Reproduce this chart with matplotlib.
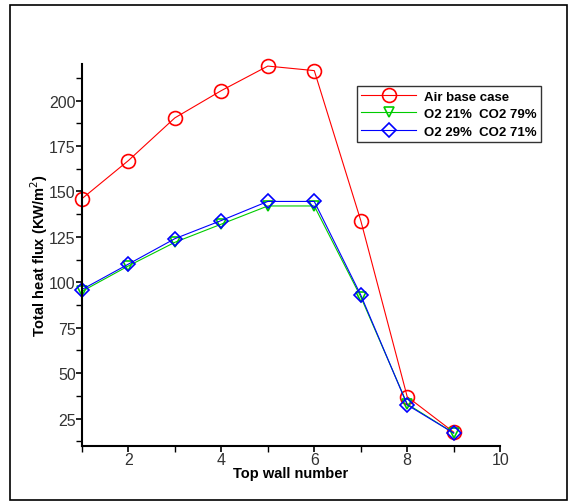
import matplotlib
matplotlib.use("Agg")
import matplotlib.pyplot as plt
from matplotlib.patches import Rectangle
from matplotlib.ticker import MultipleLocator

plt.rcParams['font.family'] = ['Liberation Sans', 'DejaVu Sans']

wall = [1, 2, 3, 4, 5, 6, 7, 8, 9]
air = [146, 167, 190.5, 205.5, 219, 216.5, 134, 37, 17.5]
o2_21 = [95, 109, 122, 132, 142, 142, 92, 33, 17]
o2_29 = [96, 110, 124, 134, 144.5, 144.5, 93, 32.5, 17]

fig = plt.figure(figsize=(5.69, 5.02), dpi=100)
ax = fig.add_axes([0.144, 0.110, 0.735, 0.760])

# outer frame round the whole picture
fig.patches.append(Rectangle((10 / 569, 1 - 501 / 502), 557 / 569, 495 / 502,
                             transform=fig.transFigure, fill=False,
                             edgecolor='black', linewidth=1.2))

ax.plot(wall, air, color='red', lw=0.8, marker='o', ms=10,
        mfc='none', mec='red', mew=1.2, label='Air base case', clip_on=False)
ax.plot(wall, o2_21, color='#00cc00', lw=0.8, marker='v', ms=7,
        mfc='none', mec='#00cc00', mew=1.2, label='O2 21%  CO2 79%', clip_on=False)
ax.plot(wall, o2_29, color='blue', lw=0.8, marker='D', ms=7,
        mfc='none', mec='blue', mew=1.2, label='O2 29%  CO2 71%', clip_on=False)

ax.set_xlim(1, 10)
ax.set_ylim(10, 220)
ax.xaxis.set_major_locator(MultipleLocator(2))
ax.xaxis.set_minor_locator(MultipleLocator(1))
ax.yaxis.set_minor_locator(MultipleLocator(12.5))
ax.set_yticks([25, 50, 75, 100, 125, 150, 175, 200])

for s in ['top', 'right']:
    ax.spines[s].set_visible(False)
for s in ['left', 'bottom']:
    ax.spines[s].set_linewidth(1.5)

ax.tick_params(which='major', direction='out', length=4, width=1.2, pad=0.5,
               labelsize=11.5, labelcolor='#333333')
ax.tick_params(which='minor', direction='out', length=4, width=1.0)

ax.set_xlabel('Top wall number', fontsize=10.5, fontweight='bold', labelpad=-1)
ax.set_ylabel('Total heat flux (KW/m$^2$)', fontsize=10.5, fontweight='bold', labelpad=-1)

leg = ax.legend(loc='upper left', bbox_to_anchor=(0.658, 0.942), borderaxespad=0,
                frameon=True, fancybox=False, edgecolor='black',
                prop={'weight': 'bold', 'size': 9.5},
                handlelength=4.2, borderpad=0.3, labelspacing=0.4, handletextpad=0.6)
leg.get_frame().set_linewidth(1.0)

fig.savefig('out.png', dpi=100)
